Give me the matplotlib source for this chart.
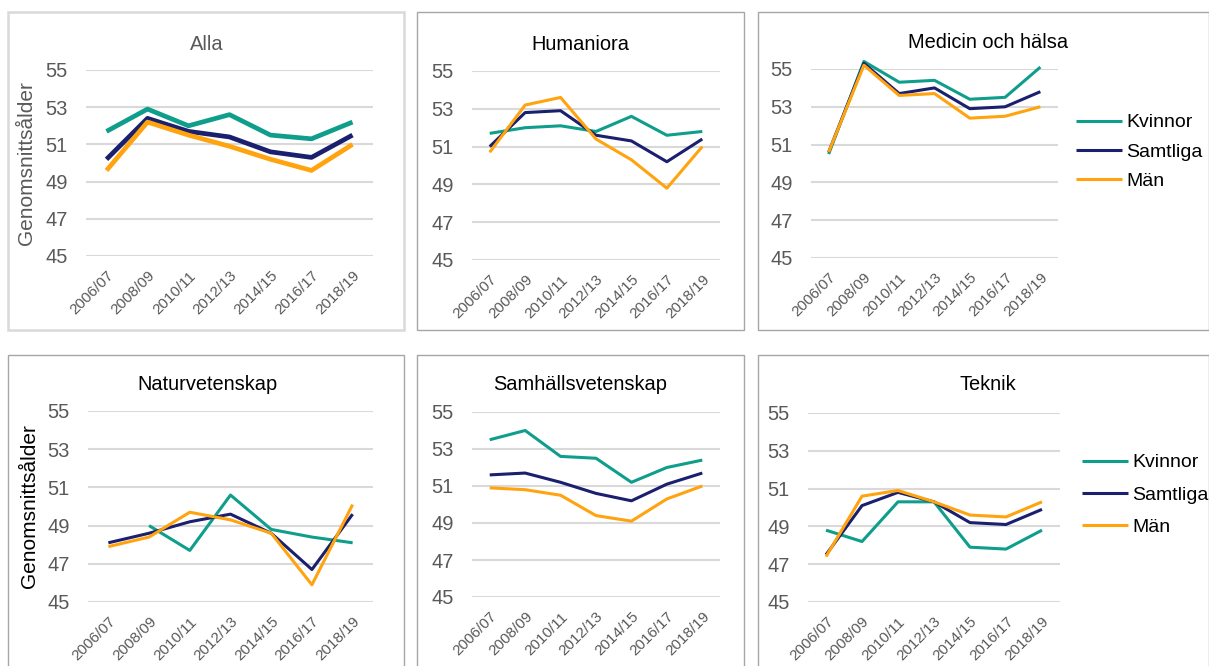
import numpy as np
import matplotlib.pyplot as plt
from matplotlib.patches import Rectangle

plt.rcParams['font.family'] = ['Liberation Sans', 'DejaVu Sans']

years = ['2006/07', '2008/09', '2010/11', '2012/13', '2014/15', '2016/17', '2018/19']
series_names = ['Kvinnor', 'Samtliga', 'Män']

alla_kvinnor = [51.7, 52.9, 52.0, 52.6, 51.5, 51.3, 52.2]
alla_samtliga = [50.2, 52.4, 51.7, 51.4, 50.6, 50.3, 51.5]
alla_man = [49.6, 52.2, 51.5, 50.9, 50.2, 49.6, 51.0]

hum_kvinnor = [51.7, 52.0, 52.1, 51.8, 52.6, 51.6, 51.8]
hum_samtliga = [51.0, 52.8, 52.9, 51.6, 51.3, 50.2, 51.4]
hum_man = [50.7, 53.2, 53.6, 51.4, 50.3, 48.8, 51.0]

med_kvinnor = [50.5, 55.4, 54.3, 54.4, 53.4, 53.5, 55.1]
med_samtliga = [50.6, 55.3, 53.7, 54.0, 52.9, 53.0, 53.8]
med_man = [50.6, 55.2, 53.6, 53.7, 52.4, 52.5, 53.0]

nat_kvinnor = [np.nan, 49.0, 47.7, 50.6, 48.8, 48.4, 48.1]
nat_samtliga = [48.1, 48.6, 49.2, 49.6, 48.6, 46.7, 49.6]
nat_man = [47.9, 48.4, 49.7, 49.3, 48.6, 45.9, 50.1]

sam_kvinnor = [53.5, 54.0, 52.6, 52.5, 51.2, 52.0, 52.4]
sam_samtliga = [51.6, 51.7, 51.2, 50.6, 50.2, 51.1, 51.7]
sam_man = [50.9, 50.8, 50.5, 49.4, 49.1, 50.3, 51.0]

tek_kvinnor = [48.8, 48.2, 50.3, 50.3, 47.9, 47.8, 48.8]
tek_samtliga = [47.5, 50.1, 50.8, 50.3, 49.2, 49.1, 49.9]
tek_man = [47.4, 50.6, 50.9, 50.3, 49.6, 49.5, 50.3]

colors = ['#0E9E8B', '#1A1F6E', '#FFA30F']

W, H = 1209, 666
fig = plt.figure(figsize=(W / 100, H / 100), dpi=100)


def px_rect(x0, y0, x1, y1):
    # pixel box (top-left origin) -> figure fraction [left, bottom, width, height]
    return [x0 / W, 1 - y1 / H, (x1 - x0) / W, (y1 - y0) / H]


def panel(box, plot, title, title_x, title_y, data, lw, ylabel=None, ylabel_color='black',
          ylabel_x=None, box_color='#A6A6A6', box_lw=1.0, legend_pos=None, legend_gap=0.6):
    bx0, by0, bx1, by1 = box
    fig.patches.append(Rectangle((bx0 / W, 1 - by1 / H), (bx1 - bx0) / W, (by1 - by0) / H,
                                 transform=fig.transFigure, fill=False,
                                 edgecolor=box_color, linewidth=box_lw))
    ax = fig.add_axes(px_rect(*plot))
    x = np.arange(len(years))
    for vals, name, c in zip(data, series_names, colors):
        ax.plot(x, vals, color=c, linewidth=lw, label=name, clip_on=False,
                solid_joinstyle='round', solid_capstyle='butt')
    ax.set_xlim(-0.5, len(years) - 0.5)
    ax.set_ylim(45, 55)
    ax.set_yticks([45, 47, 49, 51, 53, 55])
    ax.yaxis.grid(True, color='#D9D9D9', linewidth=1.5)
    ax.set_axisbelow(True)
    for s in ax.spines.values():
        s.set_visible(False)
    ax.tick_params(length=0)
    ax.tick_params(axis='y', labelsize=14.5, labelcolor='#595959', pad=13)
    ax.set_xticks(x)
    ax.set_xticklabels(years, rotation=45, ha='right', rotation_mode='anchor',
                       fontsize=11, color='#595959')
    ax.tick_params(axis='x', pad=9)
    fig.text(title_x / W, 1 - title_y / H, title, ha='center', va='center',
             fontsize=14.4, color='black' if ylabel_color == 'black' else '#595959')
    if ylabel:
        fig.text(ylabel_x / W, 1 - (plot[1] + plot[3]) / 2 / H, ylabel, rotation=90,
                 ha='center', va='center', fontsize=15, color=ylabel_color)
    if legend_pos:
        ax.legend(loc='upper left', bbox_to_anchor=(legend_pos[0] / W, 1 - legend_pos[1] / H),
                  bbox_transform=fig.transFigure, frameon=False, fontsize=14,
                  handlelength=2.4, handletextpad=0.2, labelspacing=legend_gap, borderpad=0)
    return ax


panel((8, 12, 404, 330), (86, 70, 373, 256), 'Alla', 207, 44,
      [alla_kvinnor, alla_samtliga, alla_man], 3.4,
      ylabel='Genomsnittsålder', ylabel_color='#595959', ylabel_x=27,
      box_color='#D9D9D9', box_lw=1.8)
panel((417, 12, 744, 330), (472, 71, 720, 260), 'Humaniora', 580, 45,
      [hum_kvinnor, hum_samtliga, hum_man], 2.2)
panel((758, 12, 1209, 330), (811, 69, 1058, 258), 'Medicin och hälsa', 988, 43,
      [med_kvinnor, med_samtliga, med_man], 2.2, legend_pos=(1066, 104), legend_gap=0.6)

panel((8, 355, 404, 680), (88, 411, 373, 602), 'Naturvetenskap', 207, 385,
      [nat_kvinnor, nat_samtliga, nat_man], 2.2,
      ylabel='Genomsnittsålder', ylabel_x=30)
panel((417, 355, 744, 680), (472, 412, 720, 597), 'Samhällsvetenskap', 580, 385,
      [sam_kvinnor, sam_samtliga, sam_man], 2.2)
panel((758, 355, 1209, 680), (808, 413, 1060, 602), 'Teknik', 988, 384,
      [tek_kvinnor, tek_samtliga, tek_man], 2.2, legend_pos=(1072, 444), legend_gap=0.75)

fig.savefig('out.png', dpi=100)
